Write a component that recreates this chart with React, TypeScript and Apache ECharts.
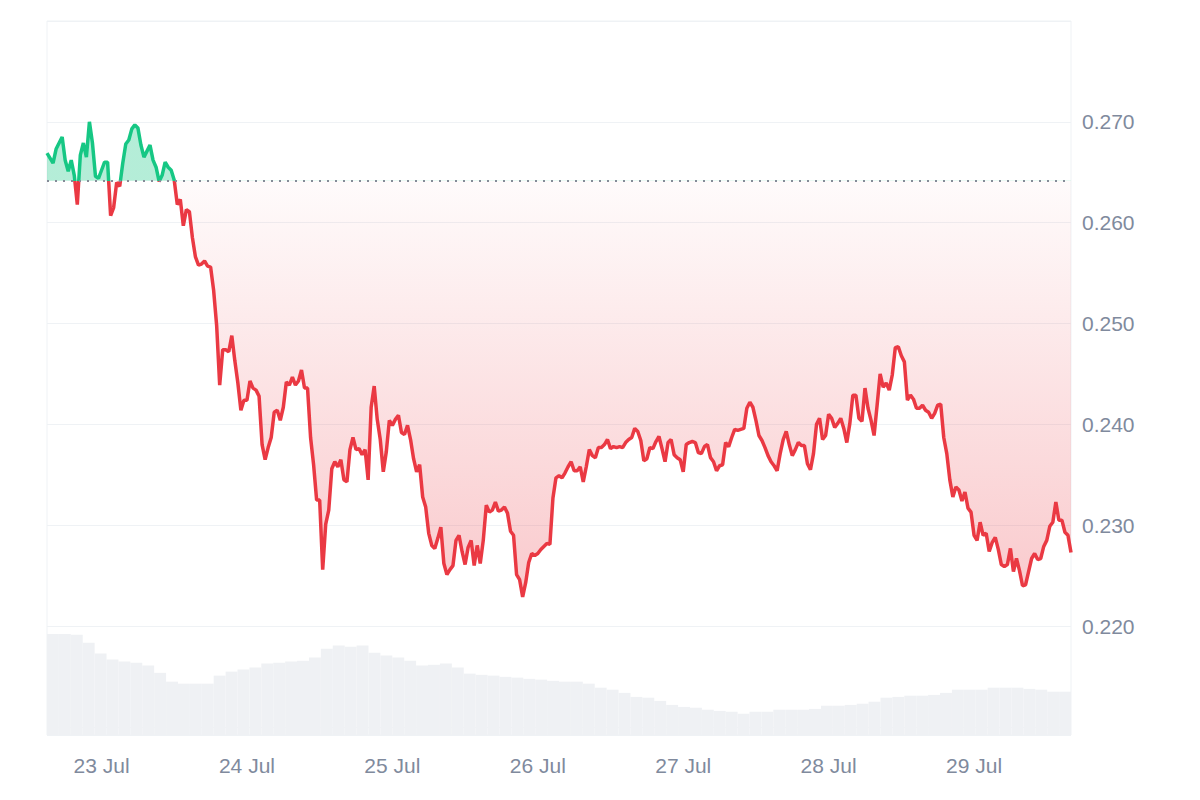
import { useEffect, useRef } from 'react';
import * as echarts from 'echarts';

const FONT = '"Liberation Sans", Arial, Helvetica, sans-serif';
const GREEN = '#16c784';
const RED = '#ea3943';
const LABEL = '#808a9d';
const GRID_LINE = '#eff2f5';

// price of the first point of the period, drawn as the dotted line
const BASELINE = 0.26415;

// 30 minute closes, 22 Jul 15:00 -> 29 Jul 16:00
const prices = [
  0.2669, 0.2664, 0.2659, 0.2673, 0.2679, 0.2685, 0.2662, 0.2651, 0.2662, 0.2647,
  0.2618, 0.2667, 0.2679, 0.2665, 0.27, 0.2679, 0.2646, 0.2644, 0.2652, 0.266,
  0.266, 0.2607, 0.2615, 0.264, 0.2636, 0.2659, 0.2678, 0.2682, 0.2693, 0.2697,
  0.2694, 0.2677, 0.2665, 0.2671, 0.2677, 0.2662, 0.2655, 0.2641, 0.2647, 0.266,
  0.2655, 0.2652, 0.2642, 0.2618, 0.2623, 0.2597, 0.2613, 0.2611, 0.2585, 0.2566,
  0.2558, 0.2559, 0.2562, 0.2557, 0.2556, 0.2533, 0.2498, 0.2439, 0.2474, 0.2474,
  0.2472, 0.2488, 0.2463, 0.2441, 0.2414, 0.2424, 0.2424, 0.2443, 0.2436, 0.2434,
  0.2428, 0.238, 0.2365, 0.2377, 0.2387, 0.2412, 0.2414, 0.2404, 0.2417, 0.2442,
  0.2439, 0.2447, 0.2439, 0.2443, 0.2454, 0.2436, 0.2436, 0.2387, 0.236, 0.2325,
  0.2325, 0.2256, 0.2301, 0.2315, 0.2356, 0.2363, 0.2358, 0.2365, 0.2345, 0.2343,
  0.2375, 0.2387, 0.2375, 0.2376, 0.237, 0.2375, 0.2345, 0.2417, 0.2438, 0.2405,
  0.2385, 0.2353, 0.2373, 0.2404, 0.2399, 0.2405, 0.2409, 0.2392, 0.239, 0.2399,
  0.2385, 0.2366, 0.2353, 0.236, 0.2328, 0.2318, 0.2292, 0.228, 0.2277, 0.2287,
  0.2298, 0.2262, 0.2251, 0.2256, 0.226, 0.2285, 0.229, 0.2274, 0.2261, 0.2278,
  0.2285, 0.226, 0.228, 0.2262, 0.2285, 0.232, 0.2313, 0.2315, 0.2323, 0.2314,
  0.2315, 0.2318, 0.2312, 0.2294, 0.229, 0.2251, 0.2246, 0.2229, 0.2243, 0.2263,
  0.2272, 0.227, 0.2272, 0.2276, 0.2279, 0.2282, 0.2281, 0.2327, 0.2347, 0.2349,
  0.2347, 0.2352, 0.2358, 0.2363, 0.2354, 0.2354, 0.2358, 0.2343, 0.2358, 0.2375,
  0.2369, 0.2367, 0.2377, 0.2377, 0.238, 0.2385, 0.2376, 0.2378, 0.2377, 0.2378,
  0.2377, 0.2382, 0.2385, 0.2387, 0.2396, 0.2393, 0.2384, 0.2364, 0.2366, 0.2377,
  0.2376, 0.2383, 0.2388, 0.2376, 0.2363, 0.2382, 0.2385, 0.237, 0.2367, 0.2365,
  0.2353, 0.238, 0.2382, 0.2383, 0.2382, 0.2372, 0.2371, 0.2378, 0.238, 0.2367,
  0.2363, 0.2354, 0.2359, 0.236, 0.2382, 0.2378, 0.2387, 0.2395, 0.2394, 0.2395,
  0.2396, 0.2416, 0.2422, 0.2417, 0.2404, 0.2389, 0.2384, 0.2377, 0.2369, 0.2363,
  0.2359, 0.2354, 0.2371, 0.2385, 0.2393, 0.238, 0.2369, 0.2375, 0.2382, 0.2379,
  0.2379, 0.2361, 0.2355, 0.2371, 0.24, 0.2406, 0.2385, 0.2389, 0.241, 0.2406,
  0.2397, 0.2401, 0.2406, 0.2396, 0.2382, 0.2401, 0.2429, 0.2429, 0.2406, 0.2403,
  0.2436, 0.2416, 0.2404, 0.2389, 0.2419, 0.245, 0.2437, 0.2441, 0.2434, 0.2449,
  0.2476, 0.2477, 0.2468, 0.2462, 0.2424, 0.2429, 0.2425, 0.2416, 0.2416, 0.2419,
  0.2414, 0.2412, 0.2406, 0.2411, 0.2419, 0.242, 0.2387, 0.2371, 0.2345, 0.2328,
  0.2338, 0.2335, 0.2324, 0.2333, 0.2317, 0.2313, 0.229, 0.2285, 0.2303, 0.229,
  0.2292, 0.2274, 0.2283, 0.2288, 0.2276, 0.2261, 0.2259, 0.2261, 0.2277, 0.2254,
  0.2267, 0.2255, 0.224, 0.2241, 0.2254, 0.2267, 0.2272, 0.2266, 0.2267, 0.2279,
  0.2285, 0.2299, 0.2303, 0.2323, 0.2305, 0.2305, 0.2293, 0.229, 0.2273,
];

// 24h volume (million USD), one bar per 2 hours
const volumes = [
  252, 252, 250, 230, 203, 188, 183, 180, 173, 155,
  133, 128, 128, 128, 148, 158, 163, 168, 178, 180,
  183, 185, 193, 215, 223, 220, 223, 205, 198, 193,
  185, 173, 175, 178, 168, 153, 150, 148, 145, 143,
  140, 138, 135, 133, 133, 128, 118, 113, 105, 95,
  93, 85, 75, 70, 68, 63, 60, 58, 53, 58,
  58, 63, 63, 63, 65, 73, 73, 75, 78, 83,
  93, 95, 98, 98, 100, 105, 113, 113, 113, 118,
  118, 118, 115, 113, 108, 108,
];

const yTicks = [0.22, 0.23, 0.24, 0.25, 0.26, 0.27];

function timeLabels(count: number, stepMin: number) {
  const out: string[] = [];
  for (let i = 0; i < count; i++) {
    const total = 15 * 60 + i * stepMin;
    const day = 22 + Math.floor(total / 1440);
    const hh = Math.floor((total % 1440) / 60);
    const mm = total % 60;
    out.push(`${day} Jul ${String(hh).padStart(2, '0')}:${String(mm).padStart(2, '0')}`);
  }
  return out;
}

export default function App() {
  const chartRef = useRef<HTMLDivElement>(null);

  useEffect(() => {
    if (!chartRef.current) return;
    document.body.style.margin = '0';
    const chart = echarts.init(chartRef.current, null, { renderer: 'svg' });

    const times = timeLabels(prices.length, 30);
    const volumeTimes = timeLabels(volumes.length, 120);

    // split point of the gradients (line and area share the same bbox: hi..lo)
    const hi = Math.max(...prices);
    const lo = Math.min(...prices);
    const cut = (hi - BASELINE) / (hi - lo);

    const lineColor = new echarts.graphic.LinearGradient(0, 0, 0, 1, [
      { offset: 0, color: GREEN },
      { offset: cut, color: GREEN },
      { offset: cut, color: RED },
      { offset: 1, color: RED },
    ]);
    const areaColor = new echarts.graphic.LinearGradient(0, 0, 0, 1, [
      { offset: 0, color: 'rgba(22, 199, 132, 0.32)' },
      { offset: cut, color: 'rgba(22, 199, 132, 0.32)' },
      { offset: cut, color: 'rgba(234, 57, 67, 0.02)' },
      { offset: 1, color: 'rgba(234, 57, 67, 0.27)' },
    ]);

    const option = {
      animation: false,
      textStyle: { fontFamily: FONT },
      grid: {
        left: 47,
        right: 129,
        top: 21,
        bottom: 65,
        show: true,
        borderColor: GRID_LINE,
        borderWidth: 1,
      },
      xAxis: [
        {
          type: 'category',
          data: times,
          boundaryGap: false,
          axisLine: { show: false },
          axisTick: { show: false },
          splitLine: { show: false },
          axisLabel: {
            interval: (_idx: number, value: string) => value.endsWith('00:00'),
            formatter: (value: string) => value.slice(0, -6),
            color: LABEL,
            fontSize: 21,
            margin: 20,
          },
        },
        { type: 'category', data: volumeTimes, show: false, boundaryGap: true },
      ],
      yAxis: [
        {
          type: 'value',
          position: 'right',
          min: 0.2092,
          max: 0.28,
          minInterval: 0.01,
          maxInterval: 0.01,
          axisLine: { show: false },
          axisTick: { show: false },
          splitLine: { lineStyle: { color: GRID_LINE, width: 1 } },
          axisLabel: {
            color: LABEL,
            fontSize: 21,
            margin: 11,
            showMinLabel: false,
            showMaxLabel: false,
            formatter: (v: number) =>
              yTicks.some((t) => Math.abs(t - v) < 1e-6) ? v.toFixed(3) : '',
          },
        },
        { type: 'value', min: 0, max: 1780, show: false, splitLine: { show: false } },
      ],
      series: [
        {
          type: 'line',
          data: prices,
          xAxisIndex: 0,
          yAxisIndex: 0,
          symbol: 'none',
          showSymbol: false,
          z: 3,
          lineStyle: { width: 3.5, color: lineColor },
          areaStyle: { origin: BASELINE, opacity: 1, color: areaColor },
          markLine: {
            silent: true,
            symbol: 'none',
            precision: 6,
            label: { show: false },
            lineStyle: { type: [2, 6], color: '#858c98', width: 2 },
            data: [{ yAxis: BASELINE }],
          },
        },
        {
          type: 'bar',
          data: volumes,
          xAxisIndex: 1,
          yAxisIndex: 1,
          barCategoryGap: '0%',
          silent: true,
          z: 1,
          itemStyle: { color: '#eff1f4' },
        },
      ],
    };

    chart.setOption(option);

    return () => {
      chart.dispose();
    };
  }, []);

  return <div ref={chartRef} style={{ width: '1200px', height: '800px' }}></div>;
}
